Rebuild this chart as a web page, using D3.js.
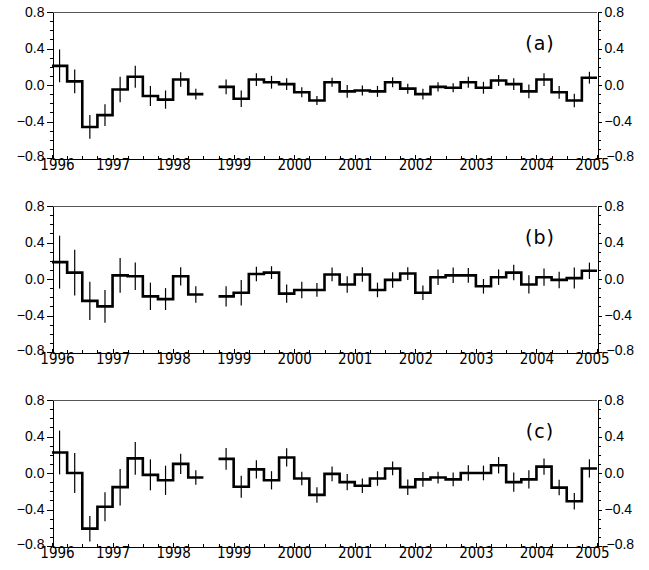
<!DOCTYPE html>
<html>
<head>
<meta charset="utf-8">
<script src="https://cdn.jsdelivr.net/npm/d3@7"></script>
<style>
body { margin: 0; background: white; }
</style>
</head>
<body>
<div id="canvas"></div>
<script>
"use strict"

/* Data: quarterly anomalies, start of each quarter in decimal years.
   1998 Q3 is missing (null) in all three series. */
let quarters = [1996, 1996.25, 1996.5, 1996.75, 1997, 1997.25, 1997.5, 1997.75,
    1998, 1998.25, 1998.5, 1998.75, 1999, 1999.25, 1999.5, 1999.75,
    2000, 2000.25, 2000.5, 2000.75, 2001, 2001.25, 2001.5, 2001.75,
    2002, 2002.25, 2002.5, 2002.75, 2003, 2003.25, 2003.5, 2003.75,
    2004, 2004.25, 2004.5, 2004.75];

let valuesA = [0.21, 0.04, -0.46, -0.33, -0.05, 0.09, -0.12, -0.16, 0.06, -0.10, null,
    -0.02, -0.15, 0.06, 0.03, 0.01, -0.08, -0.17, 0.03, -0.07, -0.06, -0.07, 0.03, -0.04,
    -0.10, -0.02, -0.03, 0.03, -0.03, 0.05, 0.01, -0.07, 0.06, -0.08, -0.17, 0.08];
let errorsA = [0.18, 0.13, 0.13, 0.12, 0.14, 0.12, 0.11, 0.10, 0.08, 0.06, null,
    0.08, 0.09, 0.07, 0.07, 0.065, 0.055, 0.05, 0.05, 0.07, 0.055, 0.06, 0.055, 0.055,
    0.06, 0.05, 0.05, 0.06, 0.065, 0.06, 0.065, 0.075, 0.07, 0.07, 0.075, 0.065];

let valuesB = [0.185, 0.07, -0.24, -0.30, 0.04, 0.03, -0.19, -0.22, 0.03, -0.17, null,
    -0.19, -0.15, 0.055, 0.07, -0.16, -0.12, -0.12, 0.05, -0.06, 0.05, -0.12, -0.01, 0.06,
    -0.15, 0.02, 0.04, 0.04, -0.08, 0.02, 0.07, -0.06, 0.02, -0.01, 0.01, 0.09];
let errorsB = [0.29, 0.25, 0.21, 0.18, 0.19, 0.15, 0.15, 0.12, 0.10, 0.09, null,
    0.11, 0.14, 0.08, 0.07, 0.10, 0.09, 0.075, 0.075, 0.09, 0.08, 0.08, 0.085, 0.07,
    0.08, 0.085, 0.085, 0.08, 0.08, 0.085, 0.085, 0.10, 0.095, 0.09, 0.115, 0.09];

let valuesC = [0.225, 0.0, -0.61, -0.37, -0.155, 0.16, -0.02, -0.08, 0.10, -0.05, null,
    0.155, -0.15, 0.04, -0.08, 0.17, -0.06, -0.24, -0.01, -0.10, -0.14, -0.06, 0.05, -0.155,
    -0.07, -0.05, -0.07, 0.0, 0.0, 0.085, -0.10, -0.07, 0.07, -0.16, -0.31, 0.05];
let errorsC = [0.24, 0.22, 0.14, 0.16, 0.20, 0.18, 0.17, 0.16, 0.11, 0.08, null,
    0.12, 0.12, 0.10, 0.10, 0.10, 0.075, 0.085, 0.08, 0.09, 0.08, 0.08, 0.075, 0.085,
    0.08, 0.065, 0.075, 0.085, 0.08, 0.09, 0.105, 0.10, 0.09, 0.085, 0.09, 0.10];

let panelLabels = ["(a)", "(b)", "(c)"];
let yearTicks = [1996, 1997, 1998, 1999, 2000, 2001, 2002, 2003, 2004, 2005];
let yTickValues = [-0.8, -0.4, 0.0, 0.4, 0.8];
let yTickLabels = ["\u22120.8", "\u22120.4", "0.0", "0.4", "0.8"];

/* Configuration variables: drawing */
let svgWidth = 649;
let svgHeight = 570;
let plotLeft = 52;
let plotRight = 597;
let panelTops = [12, 206, 400];
let panelHeight = 146;
let quarterLength = 0.25;

let svg = d3.select("#canvas")
    .append("svg")
    .attr("width", svgWidth)
    .attr("height", svgHeight)
    .style("background", "white");

let xScale = d3.scaleLinear()
    .domain([1996, 2005])
    .range([plotLeft, plotRight]);

/* minor tick positions: every quarter on x, every 0.1 on y */
let xMinor = d3.range(1996, 2005.001, 0.25);
let yMinor = d3.range(-8, 9).map(d => d / 10);

function drawPanel(index, values, errors) {
    let top = panelTops[index];
    let bottom = top + panelHeight;

    let yScale = d3.scaleLinear()
        .domain([-0.8, 0.8])
        .range([bottom, top]);

    let g = svg.append("g");

    /* top border (thin grey) */
    g.append("line")
        .attr("x1", plotLeft).attr("x2", plotRight)
        .attr("y1", top + 0.5).attr("y2", top + 0.5)
        .attr("stroke", "#555")
        .attr("stroke-width", 1);

    /* left axis: minor + major */
    g.append("g")
        .attr("transform", "translate(" + (plotLeft + 0.5) + ",0)")
        .call(d3.axisLeft(yScale).tickValues(yMinor).tickSize(3).tickSizeOuter(0).tickFormat(""));
    let left = g.append("g")
        .attr("transform", "translate(" + (plotLeft + 0.5) + ",0)")
        .call(d3.axisLeft(yScale).tickValues(yTickValues).tickSize(6).tickSizeOuter(0).tickPadding(2)
            .tickFormat((d, i) => yTickLabels[i]));

    /* right axis */
    g.append("g")
        .attr("transform", "translate(" + (plotRight + 0.5) + ",0)")
        .call(d3.axisRight(yScale).tickValues(yMinor).tickSize(3).tickSizeOuter(0).tickFormat(""));
    let right = g.append("g")
        .attr("transform", "translate(" + (plotRight + 0.5) + ",0)")
        .call(d3.axisRight(yScale).tickValues(yTickValues).tickSize(4).tickSizeOuter(0).tickPadding(3)
            .tickFormat((d, i) => yTickLabels[i]));

    /* bottom axis, ticks pointing inward */
    g.append("g")
        .attr("transform", "translate(0," + (bottom + 0.5) + ")")
        .call(d3.axisBottom(xScale).tickValues(xMinor).tickSizeInner(-3).tickSizeOuter(0).tickFormat(""));
    let bottomAxis = g.append("g")
        .attr("transform", "translate(0," + (bottom + 0.5) + ")")
        .call(d3.axisBottom(xScale).tickValues(yearTicks).tickSizeInner(-4).tickSizeOuter(0).tickPadding(1)
            .tickFormat(d3.format("d")));

    g.selectAll(".domain, .tick line")
        .attr("stroke", "black")
        .attr("shape-rendering", "crispEdges");

    left.selectAll("text").attr("font-family", "'Liberation Sans', Arial, sans-serif").attr("font-size", 14);
    right.selectAll("text").attr("font-family", "'Liberation Sans', Arial, sans-serif").attr("font-size", 14);

    /* the bottom -0.8 labels nudged clear of the year labels */
    left.selectAll("text").filter(d => d === -0.8).attr("dy", "0.2em").attr("x", -8);
    right.selectAll("text").filter(d => d === -0.8).attr("dy", "0.2em").attr("x", 9);

    bottomAxis.selectAll("text")
        .attr("font-family", "'DejaVu Sans Condensed', 'DejaVu Sans', sans-serif")
        .attr("font-size", 15);

    /* end year labels pulled slightly inward */
    bottomAxis.selectAll("text").filter(d => d === 1996).attr("x", 5);
    bottomAxis.selectAll("text").filter(d => d === 2005).attr("x", -5);

    /* split the series into runs of non-missing quarters */
    let runs = [];
    let current = [];
    for (let i = 0; i < quarters.length; i++) {
        if (values[i] === null) {
            if (current.length) runs.push(current);
            current = [];
        } else {
            current.push({ t: quarters[i], v: values[i], e: errors[i] });
        }
    }
    if (current.length) runs.push(current);

    let stepLine = d3.line()
        .x(d => xScale(d.t))
        .y(d => yScale(d.v))
        .curve(d3.curveStepAfter);

    /* error bars at the middle of each quarter */
    runs.forEach(run => {
        g.selectAll(null)
            .data(run)
            .join("line")
            .attr("x1", d => xScale(d.t + quarterLength / 2))
            .attr("x2", d => xScale(d.t + quarterLength / 2))
            .attr("y1", d => yScale(d.v - d.e))
            .attr("y2", d => yScale(d.v + d.e))
            .attr("stroke", "black")
            .attr("stroke-width", 1.2);

        let last = run[run.length - 1];
        let pts = run.concat([{ t: last.t + quarterLength, v: last.v }]);
        g.append("path")
            .attr("d", stepLine(pts))
            .attr("fill", "none")
            .attr("stroke", "black")
            .attr("stroke-width", 2.6);
    });

    /* panel label */
    g.append("text")
        .attr("x", 540)
        .attr("y", top + 32)
        .attr("text-anchor", "middle")
        .attr("dominant-baseline", "middle")
        .attr("font-family", "'DejaVu Sans', sans-serif")
        .attr("font-size", 19)
        .attr("letter-spacing", 1)
        .text(panelLabels[index]);
}

drawPanel(0, valuesA, errorsA);
drawPanel(1, valuesB, errorsB);
drawPanel(2, valuesC, errorsC);
</script>
</body>
</html>
